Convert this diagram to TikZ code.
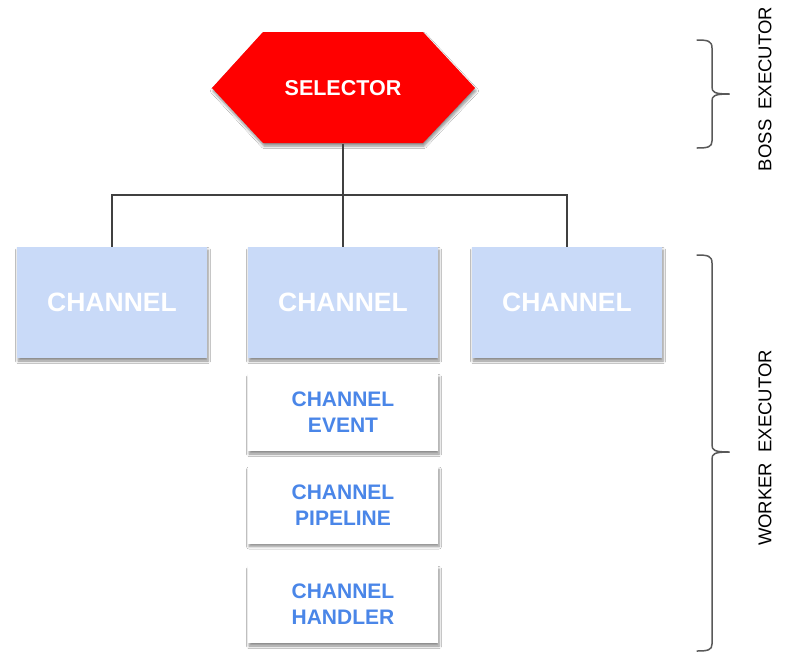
\documentclass[tikz,border=0pt]{standalone}
\usepackage{fontspec}
\setmainfont{Liberation Sans}
\usetikzlibrary{shadows.blur}
\definecolor{chfill}{HTML}{C9DAF8}
\definecolor{evtext}{HTML}{4A86E8}
\definecolor{wire}{HTML}{404040}
\definecolor{bracegray}{HTML}{595959}
\begin{document}
\begin{tikzpicture}[x=1pt,y=-1pt,
  softshadow/.style={blur shadow={shadow xshift=1pt, shadow yshift=-3pt,
      shadow blur steps=6, shadow blur radius=2.5pt, shadow opacity=45}},
  channelbox/.style={fill=chfill, minimum width=190pt, minimum height=111pt,
      inner sep=0pt, font=\fontsize{26.5}{30}\selectfont\bfseries, text=white, softshadow},
  stagebox/.style={fill=white, minimum width=190pt, minimum height=77pt,
      inner sep=0pt, align=center, font=\fontsize{21}{26}\selectfont\bfseries,
      text=evtext, softshadow},
  wireline/.style={draw=wire, line width=1.6pt},
  bracket/.style={draw=bracegray, line width=1.5pt, line cap=round, line join=round},
  sidelabel/.style={rotate=90, font=\fontsize{18.5}{20}\selectfont, text=black}]

% canvas
\fill[white] (0,0) rectangle (792,654);
\useasboundingbox (0,0) rectangle (792,654);

% selector hexagon
\fill[red, softshadow] (212,88) -- (263,32) -- (423,32) -- (475,88)
  -- (423,143) -- (263,143) -- cycle;
\node[minimum width=263pt, minimum height=111pt, inner sep=0pt, text=white,
  font=\fontsize{21.5}{24}\selectfont\bfseries] (sel) at (343,88) {SELECTOR};

% channels
\node[channelbox] (ch1) at (112,302.5) {CHANNEL};
\node[channelbox] (ch2) at (343,302.5) {CHANNEL};
\node[channelbox] (ch3) at (567,302.5) {CHANNEL};

% channel internals
\node[stagebox] (ev)   at (343,412.5) {CHANNEL\\EVENT};
\node[stagebox] (pipe) at (343,505)   {CHANNEL\\PIPELINE};
\node[stagebox] (hand) at (343,604.5) {CHANNEL\\HANDLER};

% selector to channels
\coordinate (bus) at (343,195);
\draw[wireline] (sel.south) -- (ch2.north);
\draw[wireline] (ch1.north) |- (bus) -| (ch3.north);

% boss executor brace
\draw[bracket] (697,40) .. controls (708,40) and (712,41) .. (712,48) -- (712,87)
  .. controls (712,92) and (714,94) .. (729,94);
\draw[bracket] (729,94) .. controls (714,94) and (712,96) .. (712,101) -- (712,141)
  .. controls (712,147) and (708,148) .. (697,148);
\node[sidelabel] (boss) at (765,89) {BOSS\hspace{0.55em}EXECUTOR};

% worker executor brace
\draw[bracket] (697,255) .. controls (708,255) and (712,256) .. (712,263) -- (712,445)
  .. controls (712,450) and (714,452) .. (729,452);
\draw[bracket] (729,452) .. controls (714,452) and (712,454) .. (712,459) -- (712,644)
  .. controls (712,650) and (708,651) .. (697,651);
\node[sidelabel] (worker) at (765,448) {WORKER\hspace{0.55em}EXECUTOR};
\end{tikzpicture}
\end{document}
